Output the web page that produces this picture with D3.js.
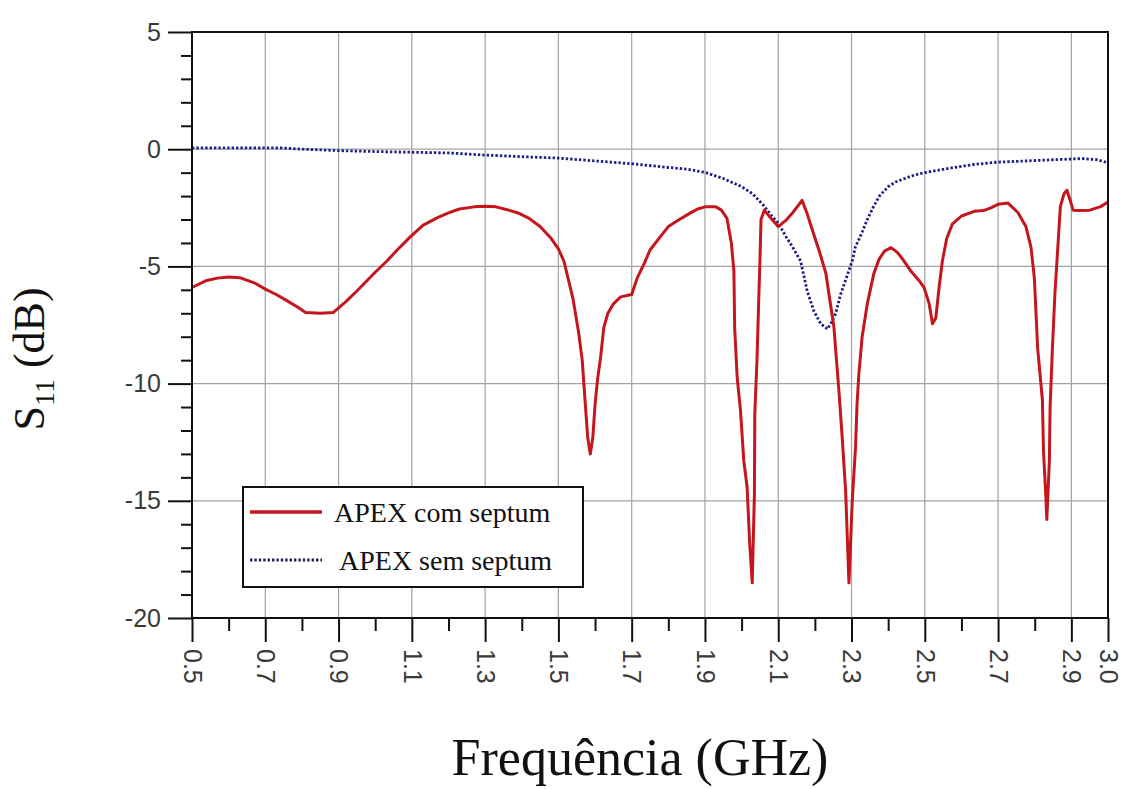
<!DOCTYPE html>
<html>
<head>
<meta charset="utf-8">
<script src="https://cdn.jsdelivr.net/npm/d3@7"></script>
<style>
html,body{margin:0;padding:0;background:#fff;}
svg{display:block;}
</style>
</head>
<body>
<svg id="chart" width="1129" height="789"></svg>
<script>
// ---- data ----
const xTickValues = [0.5,0.7,0.9,1.1,1.3,1.5,1.7,1.9,2.1,2.3,2.5,2.7,2.9,3.0];
const xMinorTicks = [0.6,0.8,1.0,1.2,1.4,1.6,1.8,2.0,2.2,2.4,2.6,2.8];
const yTickValues = [-20,-15,-10,-5,0,5];
const yMinorTicks = [-19,-18,-17,-16,-14,-13,-12,-11,-9,-8,-7,-6,-4,-3,-2,-1,1,2,3,4];
const seriesNames = ["APEX com septum","APEX sem septum"];

const comFreq = [0.50,0.54,0.57,0.60,0.63,0.67,0.70,0.73,0.76,0.79,0.81,0.85,0.885,0.92,0.95,0.98,1.00,1.03,1.06,1.095,1.13,1.17,1.20,1.23,1.27,1.30,1.33,1.36,1.39,1.42,1.45,1.48,1.50,1.515,1.54,1.555,1.565,1.574,1.58,1.587,1.594,1.60,1.607,1.615,1.624,1.635,1.65,1.67,1.70,1.715,1.735,1.75,1.78,1.80,1.83,1.857,1.88,1.90,1.93,1.945,1.96,1.972,1.979,1.981,1.988,1.997,2.006,2.015,2.022,2.029,2.035,2.036,2.042,2.047,2.050,2.053,2.062,2.08,2.10,2.12,2.14,2.165,2.18,2.19,2.213,2.23,2.252,2.266,2.275,2.284,2.289,2.293,2.302,2.311,2.315,2.32,2.329,2.343,2.361,2.375,2.39,2.408,2.425,2.44,2.462,2.484,2.498,2.512,2.521,2.53,2.539,2.548,2.56,2.575,2.60,2.635,2.66,2.68,2.70,2.727,2.754,2.776,2.79,2.799,2.808,2.821,2.824,2.830,2.833,2.840,2.842,2.848,2.855,2.862,2.87,2.88,2.888,2.897,2.905,2.92,2.95,2.98,3.00];
const comS11  = [-5.90,-5.60,-5.50,-5.45,-5.48,-5.70,-5.97,-6.20,-6.47,-6.75,-6.97,-7.00,-6.97,-6.50,-6.05,-5.57,-5.25,-4.80,-4.30,-3.75,-3.25,-2.92,-2.72,-2.55,-2.46,-2.43,-2.46,-2.58,-2.72,-2.95,-3.30,-3.80,-4.25,-4.77,-6.40,-7.80,-9.00,-11.0,-12.3,-13.0,-12.3,-10.9,-9.8,-8.9,-7.6,-7.0,-6.6,-6.30,-6.20,-5.50,-4.85,-4.30,-3.70,-3.30,-3.00,-2.75,-2.55,-2.46,-2.46,-2.60,-2.95,-4.00,-5.20,-7.60,-9.75,-11.15,-13.3,-14.4,-16.8,-18.5,-14.7,-11.3,-9.0,-6.3,-4.8,-3.0,-2.60,-2.95,-3.30,-3.05,-2.70,-2.18,-2.80,-3.30,-4.40,-5.30,-7.60,-10.4,-12.4,-14.6,-16.8,-18.5,-15.0,-12.7,-10.9,-9.6,-8.0,-6.6,-5.3,-4.70,-4.35,-4.20,-4.40,-4.70,-5.20,-5.60,-5.90,-6.60,-7.45,-7.20,-5.90,-4.77,-3.80,-3.20,-2.85,-2.65,-2.62,-2.50,-2.35,-2.30,-2.70,-3.30,-4.20,-5.5,-8.5,-10.7,-12.9,-14.7,-15.8,-13.3,-11.0,-8.6,-6.2,-4.45,-2.45,-1.90,-1.75,-2.20,-2.60,-2.62,-2.60,-2.45,-2.25];

const semFreq = [0.50,0.60,0.70,0.75,0.80,0.85,0.90,1.00,1.10,1.20,1.30,1.40,1.50,1.60,1.70,1.80,1.85,1.90,1.95,2.00,2.03,2.06,2.08,2.10,2.12,2.14,2.161,2.179,2.197,2.216,2.234,2.243,2.257,2.27,2.289,2.302,2.31,2.33,2.343,2.36,2.376,2.40,2.42,2.45,2.473,2.50,2.527,2.58,2.635,2.70,2.75,2.85,2.93,2.97,3.00];
const semS11  = [0.05,0.06,0.06,0.05,0.00,-0.03,-0.06,-0.10,-0.13,-0.16,-0.25,-0.32,-0.38,-0.50,-0.62,-0.78,-0.85,-0.99,-1.25,-1.60,-1.90,-2.40,-2.80,-3.15,-3.70,-4.20,-4.77,-6.05,-6.90,-7.45,-7.67,-7.45,-7.00,-6.20,-5.35,-4.77,-4.20,-3.50,-3.00,-2.45,-2.00,-1.60,-1.40,-1.22,-1.10,-1.00,-0.92,-0.78,-0.65,-0.55,-0.52,-0.45,-0.40,-0.45,-0.58];

// ---- layout ----
const svg = d3.select("#chart");
const L = 192, R = 1108, T = 32, B = 618;
const x = d3.scaleLinear().domain([0.5, 3.0]).range([L, R]);
const y = d3.scaleLinear().domain([-20, 5]).range([B, T]);
const tickFont = "'Liberation Sans', Arial, sans-serif";
const serif = "'Liberation Serif', 'Times New Roman', serif";

// grid
svg.append("g").selectAll("line").data(xTickValues.filter(v => v > 0.5 && v < 3.0)).join("line")
  .attr("x1", d => x(d)).attr("x2", d => x(d)).attr("y1", T).attr("y2", B)
  .attr("stroke", "#a3a3a3").attr("stroke-width", 1.2);
svg.append("g").selectAll("line").data(yTickValues.filter(v => v > -20 && v < 5)).join("line")
  .attr("x1", L).attr("x2", R).attr("y1", d => y(d)).attr("y2", d => y(d))
  .attr("stroke", "#a3a3a3").attr("stroke-width", 1.2);

// curves
const line = d3.line().x(d => x(d[0])).y(d => y(d[1]));
const semData = semFreq.map((f, i) => [f, semS11[i]]);
const comData = comFreq.map((f, i) => [f, comS11[i]]);
svg.append("path").datum(semData).attr("d", line)
  .attr("fill", "none").attr("stroke", "#1f1f86").attr("stroke-width", 2.8)
  .attr("stroke-dasharray", "2.4,2");
svg.append("path").datum(comData).attr("d", line)
  .attr("fill", "none").attr("stroke", "#c4161c").attr("stroke-width", 3)
  .attr("stroke-linejoin", "round");

// axes
const yAxis = svg.append("g").attr("transform", `translate(${L},0)`)
  .call(d3.axisLeft(y).tickValues(yTickValues).tickSize(24).tickPadding(7).tickFormat(d => String(d)));
const yMinor = svg.append("g").attr("transform", `translate(${L},0)`)
  .call(d3.axisLeft(y).tickValues(yMinorTicks).tickSize(11).tickFormat(""));
const xAxis = svg.append("g").attr("transform", `translate(0,${B})`)
  .call(d3.axisBottom(x).tickValues(xTickValues).tickSize(24).tickFormat(d3.format(".1f")));
const xMinor = svg.append("g").attr("transform", `translate(0,${B})`)
  .call(d3.axisBottom(x).tickValues(xMinorTicks).tickSize(13).tickFormat(""));
[yAxis, yMinor, xAxis, xMinor].forEach(g => {
  g.select(".domain").remove();
  g.selectAll(".tick line").attr("stroke", "#111").attr("stroke-width", 2);
});
yAxis.selectAll(".tick text").attr("font-family", tickFont).attr("font-size", 25).attr("fill", "#3a3a3a");
xAxis.selectAll(".tick text")
  .attr("font-family", tickFont).attr("font-size", 25).attr("fill", "#3a3a3a")
  .attr("transform", "rotate(90)").attr("x", 31).attr("y", 0).attr("dy", "0.35em")
  .attr("text-anchor", "start");

// frame
svg.append("rect").attr("x", L).attr("y", T).attr("width", R - L).attr("height", B - T)
  .attr("fill", "none").attr("stroke", "#111").attr("stroke-width", 2);

// legend
const lg = svg.append("g");
lg.append("rect").attr("x", 243).attr("y", 487).attr("width", 340).attr("height", 100)
  .attr("fill", "#fff").attr("stroke", "#111").attr("stroke-width", 2);
lg.append("line").attr("x1", 250).attr("x2", 322).attr("y1", 512).attr("y2", 512)
  .attr("stroke", "#c4161c").attr("stroke-width", 3.5);
lg.append("line").attr("x1", 250).attr("x2", 322).attr("y1", 560).attr("y2", 560)
  .attr("stroke", "#1f1f5a").attr("stroke-width", 2.8).attr("stroke-dasharray", "2.4,2");
lg.append("text").attr("x", 334).attr("y", 522).text(seriesNames[0])
  .attr("font-family", serif).attr("font-size", 28).attr("fill", "#111");
lg.append("text").attr("x", 339).attr("y", 570).text(seriesNames[1])
  .attr("font-family", serif).attr("font-size", 28).attr("fill", "#111");

// axis titles
svg.append("text").attr("x", 640).attr("y", 775).attr("text-anchor", "middle")
  .attr("font-family", serif).attr("font-size", 52).attr("fill", "#111")
  .text("Frequência (GHz)");
const yt = svg.append("text").attr("transform", "translate(44,359) rotate(-90)")
  .attr("text-anchor", "middle").attr("font-family", serif).attr("font-size", 44).attr("fill", "#111");
yt.append("tspan").text("S");
yt.append("tspan").attr("font-size", 28).attr("dy", 10).text("11");
yt.append("tspan").attr("dy", -10).text(" (dB)");
</script>
</body>
</html>
